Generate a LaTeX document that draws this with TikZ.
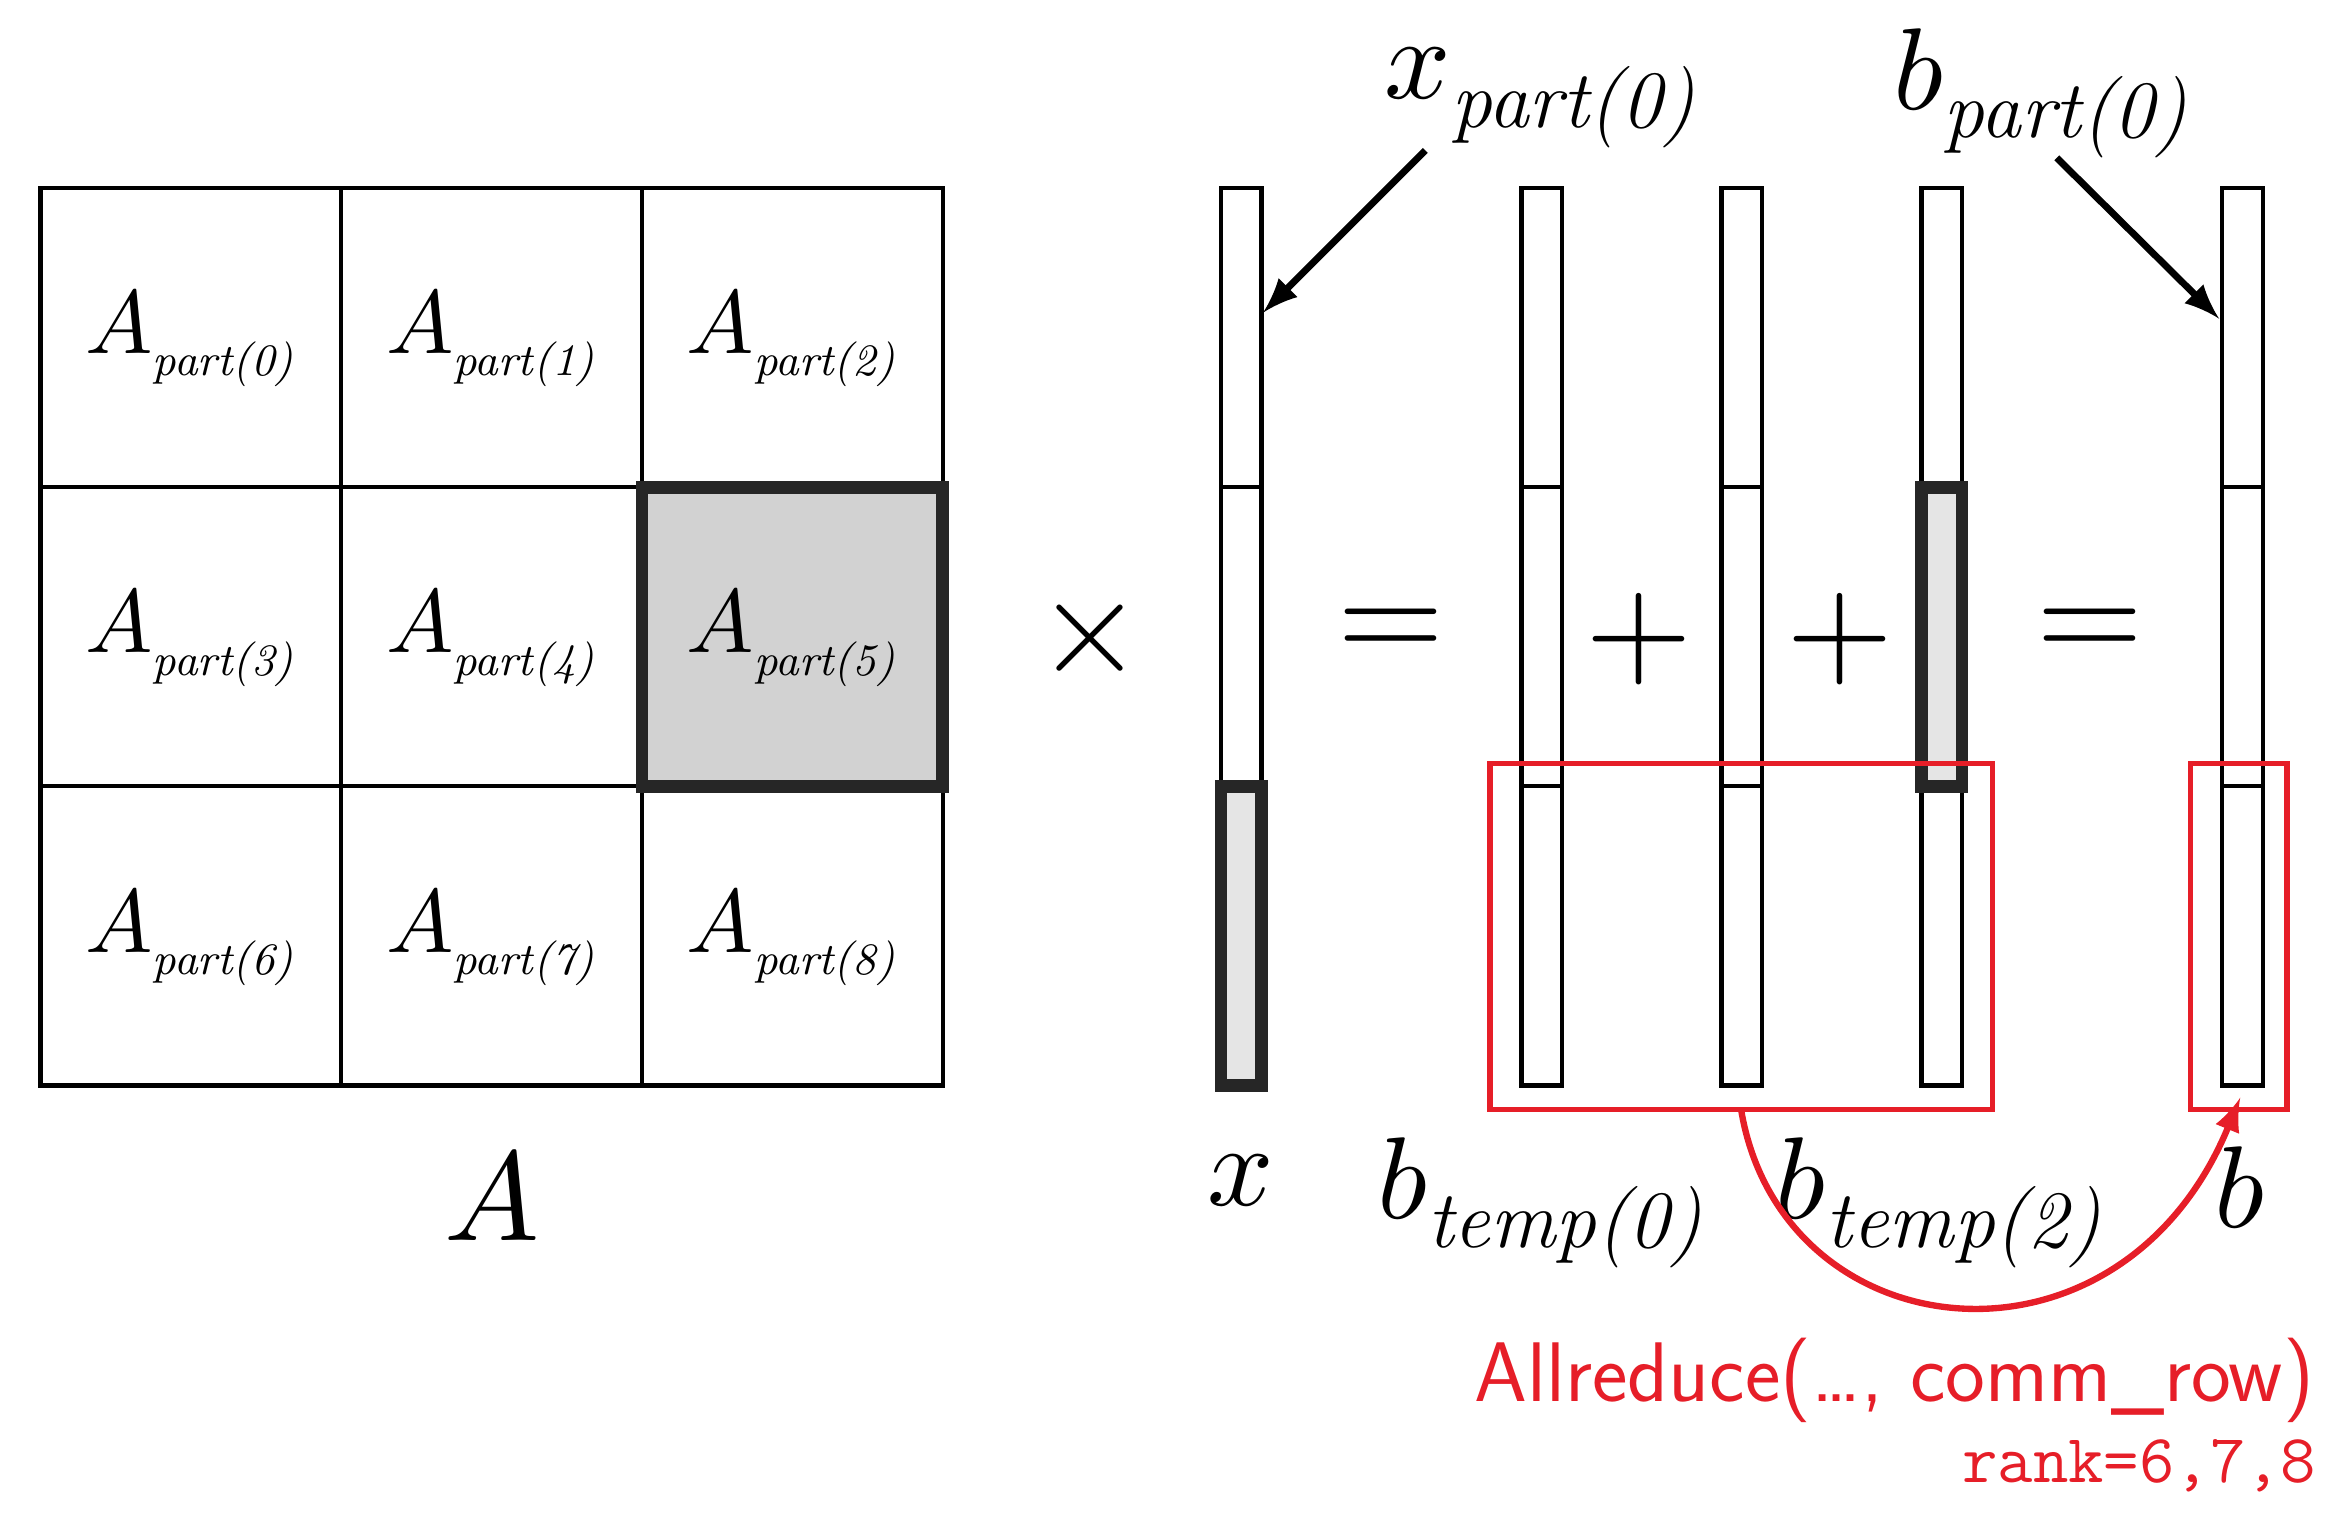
\documentclass[tikz,border=0pt]{standalone}
\usepackage{fontspec}
\usepackage{unicode-math}
\definecolor{myred}{RGB}{230,30,40}
\begin{document}
\begin{tikzpicture}[x=0.01cm,y=-0.01cm,
  cell/.style={draw,line width=0.8pt},
  hl/.style={draw=black!85,line width=2.4pt,fill=gray!35},
  hlv/.style={draw=black!85,line width=2.4pt,fill=gray!20},
  lbl/.style={font=\fontsize{17}{20}\selectfont},
  big/.style={font=\fontsize{22}{26}\selectfont},
  op/.style={font=\fontsize{26}{30}\selectfont},
  red/.style={draw=myred,line width=1pt},
  >=latex]
\useasboundingbox (0,0) rectangle (1563,1011);
% grid
\foreach \i in {0,1,2}{\foreach \j in {0,1,2}{
  \draw[cell] (27+200*\i,125+199*\j) rectangle (227+200*\i,324+199*\j);
}}
\draw[hl] (427,324) rectangle (627,523);
\foreach \i in {0,1,2}{\foreach \j in {0,1,2}{
  \pgfmathtruncatemacro{\k}{3*\j+\i}
  \node[lbl] (a\k) at (127+200*\i,225+199*\j) {$A_{\scriptscriptstyle\textit{part(\k)}}$};
}}
\node[big,font=\fontsize{24}{28}\selectfont] (lA) at (327,795) {$A$};
\node[op] (times) at (725,425) {$\times$};
% vectors
\foreach \n/\x in {vx/812,v0/1012,v1/1145,v2/1278,vb/1478}{
  \draw[cell] (\x,125) rectangle (\x+27,722);
  \draw[cell] (\x,324) -- (\x+27,324);
  \draw[cell] (\x,523) -- (\x+27,523);
  \coordinate (\n) at (\x+13,125);
}
\draw[hlv] (812,523) rectangle (839,722);
\draw[hlv] (1278,324) rectangle (1305,523);
\node[op] (eq1) at (925,422) {$=$};
\node[op] (p1) at (1090,425) {$+$};
\node[op] (p2) at (1224,425) {$+$};
\node[op] (eq2) at (1390,422) {$=$};
% labels
\node[big] (lx) at (825,785) {$x$};
\node[big] (lb0) at (1025,800) {$b_{\textit{temp(0)}}$};
\node[big] (lb2) at (1290,800) {$b_{\textit{temp(2)}}$};
\node[big] (lb) at (1490,790) {$b$};
\node[big] (xp) at (1025,65) {$x_{\textit{part(0)}}$};
\node[big] (bp) at (1358,62) {$b_{\textit{part(0)}}$};
\coordinate (xs) at (948,100); \coordinate (xe) at (840,208);
\coordinate (bs) at (1368,105); \coordinate (be) at (1476,212);
\draw[->,line width=1.3pt] (xs) -- (xe);
\draw[->,line width=1.3pt] (bs) -- (be);
% red
\draw[red] (991,508) rectangle (1325,738);
\draw[red] (1457,508) rectangle (1521,738);
\coordinate (cs) at (1158,738); \coordinate (ce) at (1490,730);
\draw[red,->,line width=1.2pt] (cs) .. controls (1185,900) and (1410,925) .. (ce);
\node[text=myred,font=\sffamily\fontsize{16}{19}\selectfont] (ar) at (1260,918) {Allreduce(\ldots, comm\_row)};
\node[text=myred,font=\ttfamily\fontsize{13}{16}\selectfont,anchor=east] (rk) at (1553,975) {rank=6,7,8};
\end{tikzpicture}
\end{document}
